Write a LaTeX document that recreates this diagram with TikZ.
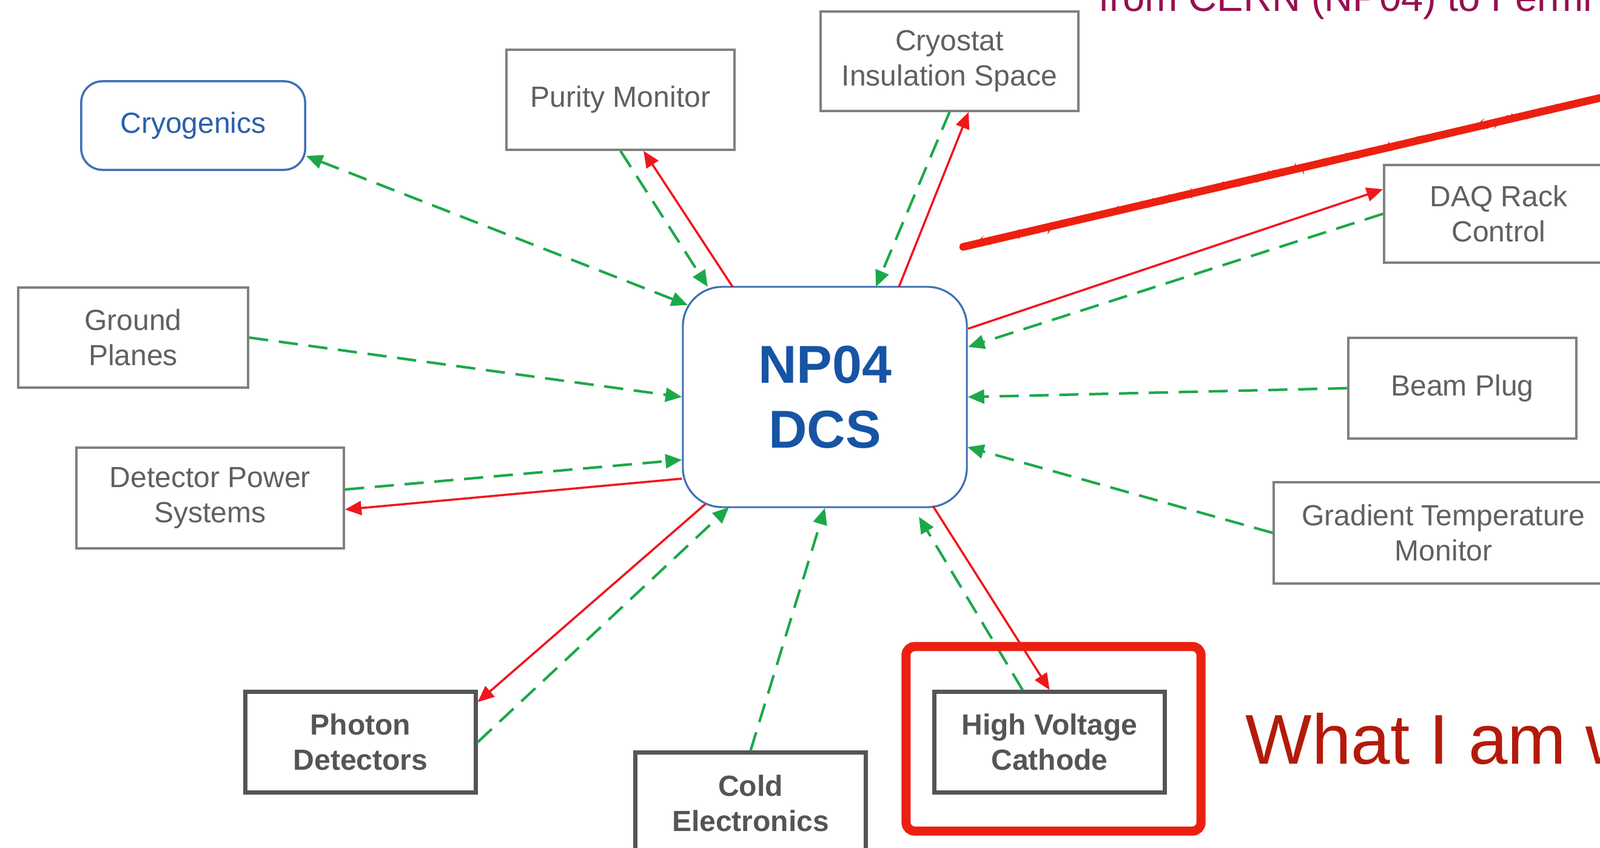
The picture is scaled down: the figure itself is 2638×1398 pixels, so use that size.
\documentclass[tikz,border=0pt]{standalone}
\usepackage{fontspec}
\setmainfont{Liberation Sans}
\usetikzlibrary{arrows.meta,decorations.pathmorphing}
\definecolor{lgreen}{RGB}{28,168,74}
\definecolor{lred}{RGB}{240,22,28}
\definecolor{dblue}{RGB}{22,84,164}
\definecolor{bblue}{RGB}{64,112,182}
\definecolor{cblue}{RGB}{42,96,170}
\definecolor{boxgray}{RGB}{128,128,128}
\definecolor{txtgray}{RGB}{96,96,96}
\definecolor{boldgray}{RGB}{85,85,85}
\definecolor{annred}{RGB}{236,32,16}
\definecolor{wred}{RGB}{180,26,10}
\definecolor{tpurple}{RGB}{150,16,80}
\tikzset{tri/.tip={Triangle[length=0.27cm,width=0.23cm]}}
\begin{document}
\begin{tikzpicture}[x=0.01cm,y=-0.01cm,
  thinbox/.style={draw=boxgray, line width=1pt, fill=white, inner sep=0pt, align=center, text=txtgray, font=\fontsize{13.66}{16.5}\selectfont},
  boldbox/.style={draw=boldgray, line width=2pt, fill=white, inner sep=0pt, align=center, text=boldgray, font=\fontsize{13.66}{16.5}\selectfont\bfseries},
  bluebox/.style={draw=bblue, line width=1pt, fill=white, inner sep=0pt, align=center, rounded corners=0.35cm, text=cblue, font=\fontsize{13.66}{16.5}\selectfont},
  hubbox/.style={draw=bblue, line width=0.9pt, fill=white, inner sep=0pt, align=center, rounded corners=0.65cm, text=dblue, font=\fontsize{25}{30.4}\selectfont\bfseries},
  gline/.style={draw=lgreen, line width=1.2pt, dash pattern=on 9pt off 5pt},
  rline/.style={draw=lred, line width=1pt},
  annot/.style={draw=annred, line width=4.3pt, rounded corners=4pt, inner sep=0pt}
]
\useasboundingbox (0,0) rectangle (2638,1398);
\clip (0,0) rectangle (2638,1398);
\fill[white] (0,0) rectangle (2638,1398);

% nodes
\node[hubbox, minimum width=4.68cm, minimum height=3.63cm] (np04) at (1360,654.5) {NP04\\DCS};
\node[bluebox, minimum width=3.69cm, minimum height=1.46cm] (cryo) at (318.5,207) {Cryogenics};
\node[thinbox, minimum width=3.79cm, minimum height=1.65cm] (ground) at (219.5,556.5) {Ground\\Planes};
\node[thinbox, minimum width=3.76cm, minimum height=1.65cm] (purity) at (1023,164.5) {Purity Monitor};
\node[thinbox, minimum width=4.25cm, minimum height=1.64cm] (cryostat) at (1565.5,101) {Cryostat\\Insulation Space};
\node[thinbox, minimum width=3.78cm, minimum height=1.61cm] (daq) at (2471,352.5) {DAQ Rack\\Control};
\node[thinbox, minimum width=3.76cm, minimum height=1.66cm] (beam) at (2411,640) {Beam Plug};
\node[thinbox, minimum width=5.60cm, minimum height=1.67cm] (grad) at (2380,878.5) {Gradient Temperature\\Monitor};
\node[thinbox, minimum width=4.41cm, minimum height=1.66cm] (dps) at (346.5,821) {Detector Power\\Systems};
\node[boldbox, minimum width=3.79cm, minimum height=1.65cm] (photon) at (594.5,1223.5) {Photon\\Detectors};
\node[boldbox, minimum width=3.79cm, minimum height=1.66cm] (cold) at (1237.5,1324) {Cold\\Electronics};
\node[boldbox, minimum width=3.79cm, minimum height=1.65cm] (hv) at (1730.5,1223.5) {High Voltage\\Cathode};

% connectors
\draw[gline, {tri}-{tri}] ([yshift=-0.5cm]cryo.east) -- ([xshift=-2.26cm,yshift=1.515cm]np04.center);
\draw[gline, -{tri}] (purity.south) -- ([xshift=-1.93cm,yshift=1.815cm]np04.center);
\draw[rline, -{tri}] ([xshift=-1.52cm,yshift=1.815cm]np04.center) -- ([xshift=0.38cm]purity.south);
\draw[gline, -{tri}] (cryostat.south) -- ([xshift=0.84cm,yshift=1.815cm]np04.center);
\draw[rline, -{tri}] ([xshift=1.22cm,yshift=1.815cm]np04.center) -- ([xshift=0.315cm]cryostat.south);
\draw[rline, -{tri}] ([xshift=2.36cm,yshift=1.125cm]np04.center) -- ([yshift=0.405cm]daq.west);
\draw[gline, -{tri}] (daq.west) -- ([xshift=2.36cm,yshift=0.825cm]np04.center);
\draw[gline, -{tri}] (beam.west) -- (np04.east);
\draw[gline, -{tri}] (grad.west) -- ([xshift=2.35cm,yshift=-0.825cm]np04.center);
\draw[gline, -{tri}] (ground.east) -- (np04.west);
\draw[gline, -{tri}] ([yshift=0.14cm]dps.east) -- ([yshift=-1.035cm]np04.west);
\draw[rline, -{tri}] ([yshift=-1.345cm]np04.west) -- ([yshift=-0.19cm]dps.east);
\draw[rline, -{tri}] ([xshift=-1.97cm,yshift=-1.765cm]np04.center) -- ([yshift=-0.2cm]photon.north east);
\draw[gline, -{tri}] (photon.east) -- ([xshift=-1.58cm,yshift=-1.815cm]np04.center);
\draw[gline, -{tri}] (cold.north) -- (np04.south);
\draw[gline, -{tri}] ([xshift=-0.445cm]hv.north) -- ([xshift=1.55cm,yshift=-1.975cm]np04.center);
\draw[rline, -{tri}] ([xshift=1.78cm,yshift=-1.795cm]np04.center) -- (hv.north);

% annotations
\node[annot, minimum width=4.86cm, minimum height=3.04cm] (hl) at (1737,1218) {};
\coordinate (s1) at (1588,407);
\coordinate (s2) at (2700,147);
\draw[annred, line width=3.6pt, line cap=round] (s1) -- (s2);
\draw[annred, line width=0.8pt, decorate, decoration={random steps, segment length=1.5pt, amplitude=1.6pt}] (s1) -- (s2);
\node[anchor=base west, inner sep=0pt, text=tpurple, font=\fontsize{18.5}{22}\selectfont] (title) at (1811,19) {from CERN (NP04) to Fermi};
\node[anchor=base west, inner sep=0pt, text=wred, font=\fontsize{33}{40}\selectfont] (note) at (2053,1260) {What I am w};
\end{tikzpicture}
\end{document}
